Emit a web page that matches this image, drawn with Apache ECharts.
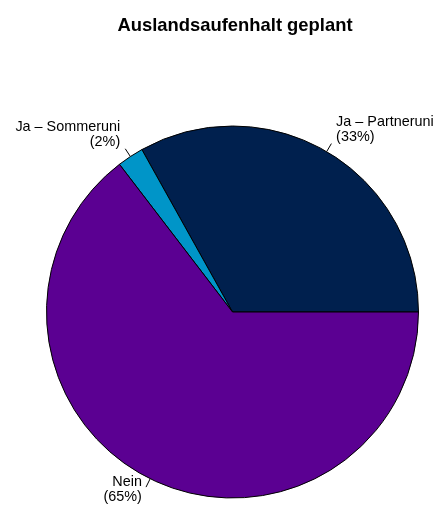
<!DOCTYPE html>
<html>
<head>
<meta charset="utf-8">
<script src="https://cdn.jsdelivr.net/npm/echarts@6/dist/echarts.min.js"></script>
<style>html,body{margin:0;padding:0;background:#fff;}#c{width:438px;height:506px;}</style>
</head>
<body>
<div id="c"></div>
<script>
const titleText = 'Auslandsaufenhalt geplant';
const categories = ['Ja – Partneruni', 'Ja – Sommeruni', 'Nein'];
const values = [33.1, 2.3, 64.6];
const colors = ['#00204E', '#0095C8', '#5B0092'];

const data = categories.map((c, i) => ({ name: c, value: values[i], itemStyle: { color: colors[i] } }));
const font = 'Liberation Sans, Arial, Helvetica, sans-serif';
const chart = echarts.init(document.getElementById('c'), null, { renderer: 'canvas' });
chart.setOption({
  animation: false,
  backgroundColor: '#fff',
  title: {
    text: titleText, left: 235, top: 17, textAlign: 'center', padding: 0,
    textStyle: { fontFamily: font, fontWeight: 'bold', fontSize: 18.4, color: '#000' }
  },
  series: [
    {
      // text labels at 1.1 * radius (wedges hidden beneath the main pie)
      type: 'pie', center: [232.5, 312], radius: 185, startAngle: 0, clockwise: false,
      avoidLabelOverlap: false, silent: true, z: 1,
      data: data,
      itemStyle: { borderWidth: 0 },
      label: {
        show: true, position: 'outside', distanceToLabelLine: 0,
        formatter: p => p.name + '\n(' + Math.round(p.percent) + '%)',
        fontFamily: font, fontSize: 14.4, lineHeight: 15, color: '#000',
        offset: [0, -6]
      },
      labelLine: { show: false, length: 19.6, length2: 0 },
      labelLayout: { hideOverlap: false },
      emphasis: { disabled: true }
    },
    {
      // pie wedges and leader lines
      type: 'pie', center: [232.5, 312], radius: 186, startAngle: 0, clockwise: false,
      avoidLabelOverlap: false, silent: true, z: 2,
      data: data,
      itemStyle: { borderColor: '#000', borderWidth: 1 },
      label: { show: true, position: 'outside', formatter: '.', fontSize: 6, color: 'rgba(0,0,0,0)' },
      labelLine: { show: true, length: 9.3, length2: 0, smooth: false, lineStyle: { color: '#000', width: 1 } },
      labelLayout: { hideOverlap: false },
      emphasis: { disabled: true }
    }
  ]
});
</script>
</body>
</html>
